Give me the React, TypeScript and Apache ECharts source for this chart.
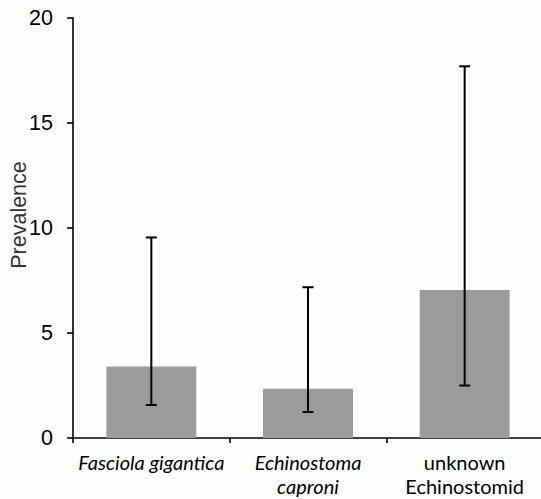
import React, { useEffect, useRef } from "react";
import * as echarts from "echarts";

const categories = ["Fasciola gigantica", "Echinostoma caproni", "unknown Echinostomid"];
const prevalence = [3.4, 2.35, 7.05];
const errorLow = [1.57, 1.24, 2.5];
const errorHigh = [9.55, 7.18, 17.7];
const yTicks = [0, 5, 10, 15, 20];
const yAxisTitle = "Prevalence";

const labelMarkup: Record<string, string> = {
  "Fasciola gigantica": "{it|Fasciola gigantica}",
  "Echinostoma caproni": "{it|Echinostoma}\n{it|caproni}",
  "unknown Echinostomid": "{n|unknown}\n{n|Echinostomid}",
};

export default function App() {
  const ref = useRef<HTMLDivElement>(null);
  useEffect(() => {
    if (!ref.current) return;
    const chart = echarts.init(ref.current, undefined, { renderer: "svg" });
    const errData = categories.map((_, i) => [i, errorLow[i], errorHigh[i]]);
    chart.setOption({
      animation: false,
      backgroundColor: "#fdfdfe",
      grid: { left: 73, top: 18, width: 470, height: 420, containLabel: false, outerBoundsMode: "none" },
      graphic: [
        {
          type: "text",
          x: 19,
          y: 215,
          rotation: Math.PI / 2,
          style: {
            text: yAxisTitle,
            fontFamily: "Liberation Sans",
            fontSize: 21.5,
            fill: "#333",
            align: "center",
            verticalAlign: "middle",
          },
        },
      ],
      xAxis: {
        type: "category",
        data: categories,
        axisLine: { lineStyle: { color: "#000", width: 1.6 } },
        axisTick: { show: true, length: 5, lineStyle: { color: "#000", width: 1.6 } },
        axisLabel: {
          margin: 12,
          interval: 0,
          hideOverlap: false,
          formatter: (v: string) => labelMarkup[v] || v,
          rich: {
            it: { fontStyle: "italic", fontFamily: "Lato", fontSize: 20, color: "#000", lineHeight: 24 },
            n: { fontFamily: "Lato", fontSize: 20, color: "#000", lineHeight: 24 },
          },
        },
      },
      yAxis: {
        type: "value",
        min: yTicks[0],
        max: yTicks[yTicks.length - 1],
        interval: 5,
        axisLine: { show: true, lineStyle: { color: "#000", width: 1.6 } },
        axisTick: { show: true, length: 6, lineStyle: { color: "#000", width: 1.6 } },
        axisLabel: { margin: 20, fontFamily: "Liberation Sans", fontSize: 21.5, color: "#000" },
        splitLine: { show: false },
      },
      series: [
        {
          type: "bar",
          data: prevalence,
          barWidth: 90,
          itemStyle: { color: "#9a9b9b" },
        },
        {
          type: "custom",
          data: errData,
          z: 10,
          renderItem: (params: any, api: any) => {
            const x = api.value(0);
            const lo = api.coord([x, api.value(1)]);
            const hi = api.coord([x, api.value(2)]);
            const cx = lo[0];
            const hw = 5.5;
            const style = { stroke: "#000", lineWidth: 2 };
            return {
              type: "group",
              children: [
                { type: "line", shape: { x1: cx, y1: lo[1], x2: cx, y2: hi[1] }, style },
                { type: "line", shape: { x1: cx - hw, y1: lo[1], x2: cx + hw, y2: lo[1] }, style },
                { type: "line", shape: { x1: cx - hw, y1: hi[1], x2: cx + hw, y2: hi[1] }, style },
              ],
            };
          },
        },
      ],
    });
    return () => chart.dispose();
  }, []);
  return <div ref={ref} style={{ width: 541, height: 499, position: "absolute", left: 0, top: 0 }} />;
}
